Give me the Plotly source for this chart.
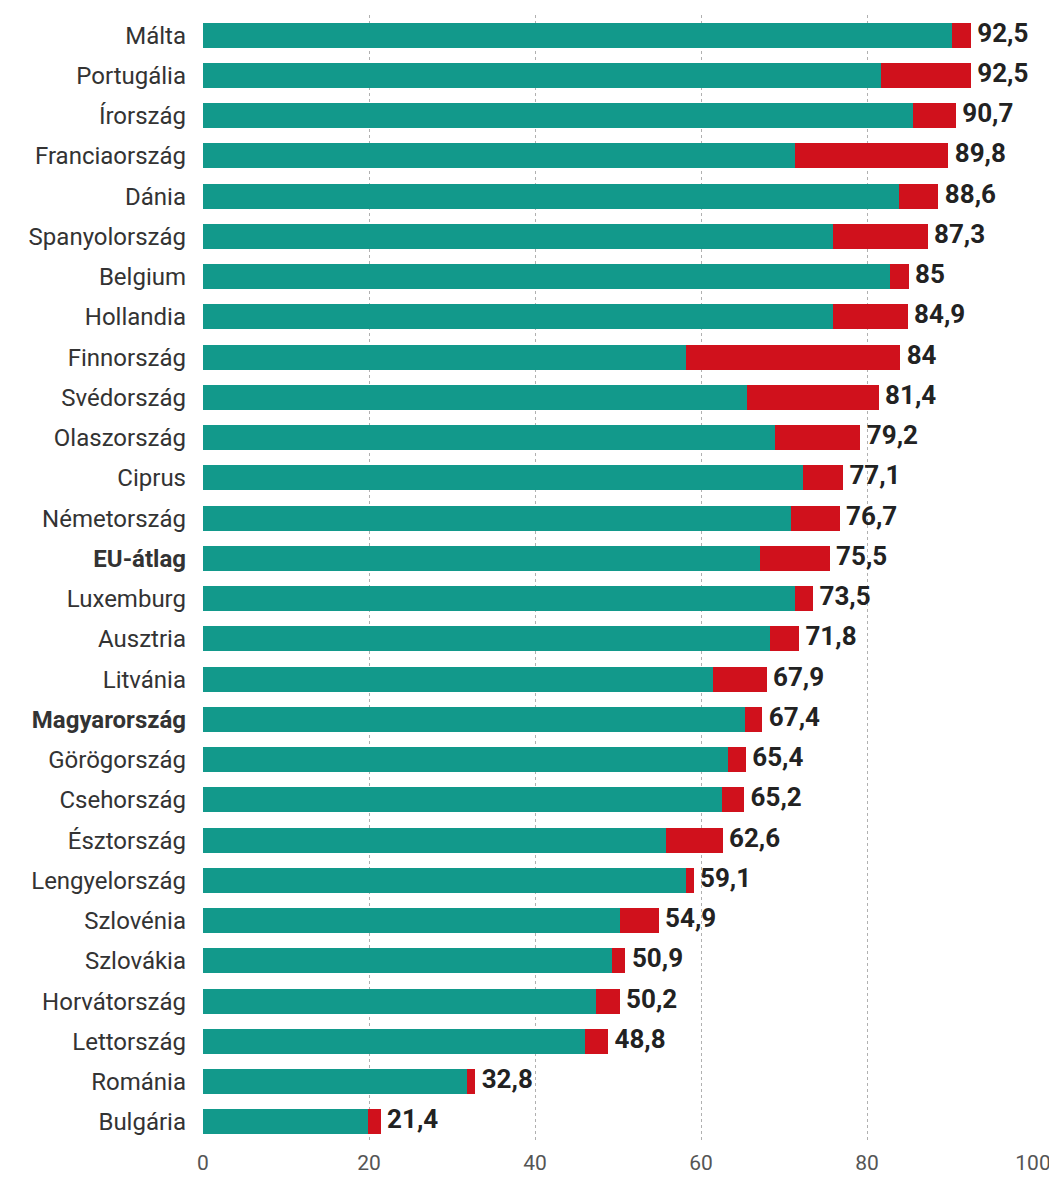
import plotly.graph_objects as go

countries = ["Málta", "Portugália", "Írország", "Franciaország", "Dánia", "Spanyolország",
             "Belgium", "Hollandia", "Finnország", "Svédország", "Olaszország", "Ciprus",
             "Németország", "EU-átlag", "Luxemburg", "Ausztria", "Litvánia", "Magyarország",
             "Görögország", "Csehország", "Észtország", "Lengyelország", "Szlovénia",
             "Szlovákia", "Horvátország", "Lettország", "Románia", "Bulgária"]
totals = [92.5, 92.5, 90.7, 89.8, 88.6, 87.3, 85, 84.9, 84, 81.4, 79.2, 77.1, 76.7, 75.5,
          73.5, 71.8, 67.9, 67.4, 65.4, 65.2, 62.6, 59.1, 54.9, 50.9, 50.2, 48.8, 32.8, 21.4]
teal_part = [90.2, 81.7, 85.5, 71.3, 83.9, 75.9, 82.8, 75.9, 58.2, 65.5, 68.9, 72.3, 70.9,
             67.1, 71.3, 68.3, 61.4, 65.3, 63.3, 62.5, 55.8, 58.2, 50.2, 49.3, 47.4, 46.0,
             31.8, 19.9]
red_part = [round(t - a, 1) for t, a in zip(totals, teal_part)]
total_labels = ["\u00a0" + ("%g" % t).replace(".", ",") for t in totals]
bold_set = {"EU-átlag", "Magyarország"}
tick_text = [("<b>%s</b>" % c) if c in bold_set else c for c in countries]

TEAL = "#12998b"
RED = "#d0111c"
FONT = "Roboto, sans-serif"

fig = go.Figure()
fig.add_trace(go.Bar(y=countries, x=teal_part, orientation="h",
                     marker=dict(color=TEAL, line=dict(width=0)), showlegend=False,
                     hoverinfo="x+y"))
fig.add_trace(go.Bar(y=countries, x=red_part, orientation="h",
                     marker=dict(color=RED, line=dict(width=0)), showlegend=False,
                     hoverinfo="x+y"))
fig.add_trace(go.Scatter(y=countries, x=totals, mode="text", text=total_labels,
                         textposition="middle right",
                         textfont=dict(family=FONT, size=26, color="#222222"),
                         texttemplate="<b>%{text}</b>", cliponaxis=False,
                         showlegend=False, hoverinfo="skip"))

fig.update_layout(
    barmode="stack",
    bargap=0.38,
    width=1049, height=1181,
    margin=dict(l=195, r=24, t=7, b=47, autoexpand=False),
    plot_bgcolor="white", paper_bgcolor="white",
    font=dict(family=FONT, color="#333333"),
)
fig.update_xaxes(range=[0, 100], tickvals=[0, 20, 40, 60, 80, 100],
                 showgrid=True, gridcolor="#b0b0b0", griddash="dot", gridwidth=1,
                 zeroline=False, showline=False, ticks="", ticklabelstandoff=6,
                 tickfont=dict(size=21, color="#555555"))
fig.update_yaxes(categoryorder="array", categoryarray=countries[::-1],
                 range=[-0.5, len(countries) - 0.5], autorange=False,
                 tickvals=countries, ticktext=tick_text,
                 showgrid=False, zeroline=False, ticks="", ticklabelstandoff=16,
                 tickfont=dict(size=24, color="#333333"))

fig.write_html("out.html")
